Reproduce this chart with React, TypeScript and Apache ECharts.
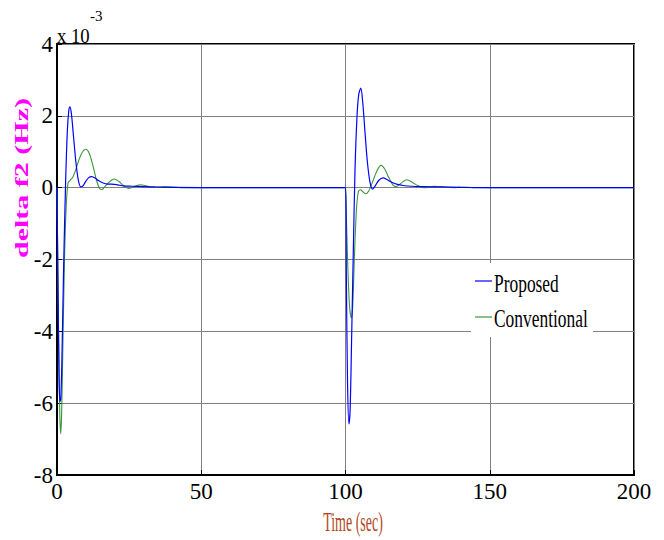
import React, { useEffect, useRef } from "react";
import * as echarts from "echarts";

// values in units of 1e-3 Hz
const proposedPoints: [number, number][] = [
  [0, 0], [0.3, -2.5], [0.7, -5.2], [1.0, -5.95], [1.3, -5.9], [1.7, -4.8], [2.3, -2.2],
  [3.0, 0.2], [3.6, 1.6], [4.1, 2.15], [4.5, 2.25], [5.0, 2.05], [5.7, 1.45], [6.5, 0.75],
  [7.3, 0.25], [8.2, 0.02], [9.0, 0.05], [10.0, 0.18], [11.0, 0.28], [12.0, 0.31], [13.2, 0.27],
  [14.5, 0.19], [16, 0.13], [17.5, 0.1], [19, 0.1], [21, 0.08], [23, 0.05], [26, 0.04],
  [30, 0.03], [34, 0.02], [40, 0.01], [60, 0], [100, 0],
  [100.3, -2.5], [100.7, -5.4], [101.2, -6.58], [101.6, -6.2], [102.1, -4.3], [102.7, -1.8],
  [103.3, 0.5], [104.0, 2.0], [104.6, 2.6], [105.3, 2.77], [106.0, 2.35], [106.8, 1.5],
  [107.6, 0.7], [108.5, 0.15], [109.4, -0.04], [110.3, 0.05], [111.5, 0.2], [113.0, 0.27],
  [114.5, 0.22], [116, 0.15], [118, 0.09], [120, 0.06], [123, 0.04], [127, 0.03], [133, 0.02],
  [140, 0.01], [160, 0], [200, 0],
];

const conventionalPoints: [number, number][] = [
  [0, 0], [0.3, -2.2], [0.7, -5.0], [1.0, -6.4], [1.3, -6.85], [1.6, -6.3], [2.0, -4.6],
  [2.6, -2.0], [3.2, -0.5], [3.8, 0.12], [4.5, 0.2], [5.5, 0.3], [6.5, 0.5], [7.5, 0.75],
  [8.7, 0.98], [10, 1.07], [11.2, 0.95], [12.5, 0.6], [13.7, 0.2], [14.8, -0.03], [15.6, -0.05],
  [16.5, 0.02], [18, 0.15], [19.8, 0.24], [21.5, 0.17], [23, 0.06], [24.8, -0.02], [26.5, 0.02],
  [29, 0.08], [31, 0.05], [33.5, 0.01], [37, 0.03], [40, 0.02], [43, 0], [100, 0],
  [100.3, -0.8], [100.8, -2.2], [101.4, -3.3], [102, -3.62], [102.5, -3.3], [103.1, -1.9],
  [103.8, -0.6], [104.5, -0.1], [105.2, -0.06], [106.1, -0.12], [107, -0.17], [108, -0.1],
  [109.2, 0.12], [110.8, 0.45], [112.3, 0.62], [113.6, 0.52], [115, 0.28], [116.4, 0.08],
  [117.6, 0.03], [119.2, 0.12], [121.3, 0.22], [123, 0.16], [125, 0.06], [127, 0.0],
  [129.5, 0.02], [131, 0.04], [134, 0.01], [138, 0.0], [141, 0.02], [144, 0], [200, 0],
];

const seriesNames = ["Proposed", "Conventional"];
const seriesColors = ["#0000ff", "#3a963a"];
const xTitle = "Time (sec)";
const yTitle = "delta f2 (Hz)";

const serif = "Liberation Serif";

export default function App() {
  const ref = useRef<HTMLDivElement>(null);
  useEffect(() => {
    const chart = echarts.init(ref.current!, null, { renderer: "svg" });
    chart.setOption({
      animation: false,
      backgroundColor: "#ffffff",
      textStyle: { fontFamily: serif },
      grid: {
        left: 57,
        right: 30,
        top: 44,
        bottom: 65,
        show: true,
        borderColor: "#000",
        borderWidth: 2,
      },
      xAxis: {
        type: "value",
        min: 0,
        max: 200,
        interval: 50,
        axisLine: { show: true, onZero: false, lineStyle: { color: "#000", width: 2 } },
        axisTick: { show: true, inside: true, length: 5, lineStyle: { color: "#000" } },
        axisLabel: { color: "#000", fontFamily: serif, fontSize: 23, margin: 5 },
        splitLine: { show: true, lineStyle: { color: "#808080", width: 1 } },
      },
      yAxis: {
        type: "value",
        min: -8,
        max: 4,
        interval: 2,
        axisLine: { show: true, onZero: false, lineStyle: { color: "#000", width: 2 } },
        axisTick: { show: true, inside: true, length: 5, lineStyle: { color: "#000" } },
        axisLabel: { color: "#000", fontFamily: serif, fontSize: 23, margin: 4 },
        splitLine: { show: true, lineStyle: { color: "#808080", width: 1 } },
      },
      series: [
        {
          name: seriesNames[1],
          type: "line",
          data: conventionalPoints,
          showSymbol: false,
          smooth: 0.3,
          lineStyle: { color: seriesColors[1], width: 1.1 },
          itemStyle: { color: seriesColors[1] },
          z: 2,
        },
        {
          name: seriesNames[0],
          type: "line",
          data: proposedPoints,
          showSymbol: false,
          smooth: 0.3,
          lineStyle: { color: seriesColors[0], width: 1.2 },
          itemStyle: { color: seriesColors[0] },
          z: 3,
        },
      ],
      graphic: [
        {
          type: "text",
          x: 57,
          y: 24,
          scaleX: 0.85,
          z: 100,
          style: { text: "x 10", fontFamily: serif, fontSize: 22, fill: "#000" },
        },
        {
          type: "text",
          x: 90,
          y: 8,
          z: 100,
          style: { text: "-3", fontFamily: serif, fontSize: 15, fill: "#000" },
        },
        {
          type: "text",
          x: 21,
          y: 178,
          rotation: Math.PI / 2,
          scaleY: 0.65,
          z: 100,
          style: {
            text: yTitle,
            fontFamily: serif,
            fontWeight: "bold",
            fontSize: 30,
            fill: "#ff00ff",
            align: "center",
            verticalAlign: "middle",
          },
        },
        {
          type: "text",
          x: 353,
          y: 522,
          scaleX: 0.5,
          z: 100,
          style: {
            text: xTitle,
            fontFamily: serif,
            fontSize: 28,
            fill: "#b04a1e",
            align: "center",
            verticalAlign: "middle",
          },
        },
        {
          type: "rect",
          z: 100,
          shape: { x: 471, y: 263, width: 122, height: 74 },
          style: { fill: "#ffffff" },
        },
        {
          type: "line",
          z: 101,
          shape: { x1: 475, y1: 281, x2: 492, y2: 281 },
          style: { stroke: seriesColors[0], lineWidth: 1.2 },
        },
        {
          type: "line",
          z: 101,
          shape: { x1: 475, y1: 317, x2: 492, y2: 317 },
          style: { stroke: seriesColors[1], lineWidth: 1.2 },
        },
        {
          type: "text",
          x: 494,
          y: 283,
          scaleX: 0.67,
          z: 101,
          style: {
            text: seriesNames[0],
            fontFamily: serif,
            fontSize: 26,
            fill: "#000",
            align: "left",
            verticalAlign: "middle",
          },
        },
        {
          type: "text",
          x: 494,
          y: 318,
          scaleX: 0.67,
          z: 101,
          style: {
            text: seriesNames[1],
            fontFamily: serif,
            fontSize: 26,
            fill: "#000",
            align: "left",
            verticalAlign: "middle",
          },
        },
      ],
    });
    return () => chart.dispose();
  }, []);
  return (
    <div
      ref={ref}
      style={{ position: "fixed", left: 0, top: 0, width: 664, height: 540 }}
    />
  );
}
